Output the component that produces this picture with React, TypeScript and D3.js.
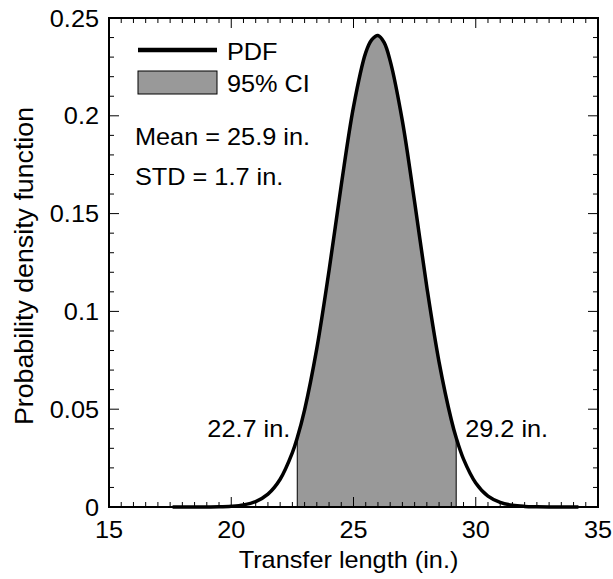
import React, { useEffect, useRef } from 'react';
import * as d3 from 'd3';

// curve points (x in inches, y = density)
const xs = [17.6, 18, 18.5, 19, 19.5, 20, 20.5, 21, 21.5, 22, 22.5, 22.7, 23, 23.5, 24, 24.5, 25, 25.5, 25.75, 26, 26.25, 26.5, 27, 27.5, 28, 28.5, 29, 29.2, 29.5, 30, 30.5, 31, 31.5, 32, 32.5, 33, 33.5, 34, 34.2];
const ys = [0, 0, 0, 0, 0.0001, 0.0004, 0.0011, 0.0028, 0.0066, 0.0142, 0.0278, 0.0354, 0.0497, 0.0811, 0.1209, 0.1646, 0.2046, 0.2323, 0.2389, 0.241, 0.2375, 0.2281, 0.1973, 0.1559, 0.1124, 0.0741, 0.0446, 0.0354, 0.0245, 0.0123, 0.0056, 0.0024, 0.0009, 0.0003, 0.0001, 0, 0, 0, 0];
const ciBounds = [22.7, 29.2];
const ciLabels = ['22.7 in.', '29.2 in.'];
const xTicks = [15, 20, 25, 30, 35];
const yTicks = [0, 0.05, 0.1, 0.15, 0.2, 0.25];
const statLines = ['Mean = 25.9 in.', 'STD = 1.7 in.'];

type Pt = { x: number; y: number };

const App = () => {
  const svgRef = useRef<SVGSVGElement>(null);

  useEffect(() => {
    const svg = d3.select(svgRef.current);
    svg.selectAll('*').remove();

    const width = 613;
    const height = 579;
    const margin = { top: 18, right: 15, bottom: 72, left: 109 };
    const w = width - margin.left - margin.right;
    const h = height - margin.top - margin.bottom;
    const fs = 23;
    const sx = 1.1; // the reference lettering is a bit wider than Arial

    svg.attr('width', width).attr('height', height)
      .style('font-family', '"Liberation Sans", Arial, sans-serif');
    const g = svg.append('g').attr('transform', `translate(${margin.left},${margin.top})`);

    // text helper: place at (px, py) in plot coords, stretched horizontally
    const label = (px: number, py: number, str: string | number, anchor = 'start') =>
      g.append('text')
        .attr('transform', `translate(${px},${py}) scale(${sx},1)`)
        .attr('text-anchor', anchor)
        .style('font-size', `${fs}px`)
        .text(str);

    const x = d3.scaleLinear().domain([15, 35]).range([0, w]);
    const y = d3.scaleLinear().domain([0, 0.25]).range([h, 0]);

    const data: Pt[] = xs.map((v, i) => ({ x: v, y: ys[i] }));
    const ciData = data.filter((d) => d.x >= ciBounds[0] && d.x <= ciBounds[1]);

    // shaded 95% CI
    g.append('path')
      .datum(ciData)
      .attr('fill', '#999999')
      .attr('d', d3.area<Pt>()
        .x((d) => x(d.x))
        .y0(y(0))
        .y1((d) => y(d.y))
        .curve(d3.curveCatmullRom));

    // vertical edges of the CI
    g.selectAll('.ci-edge')
      .data(ciBounds)
      .enter()
      .append('line')
      .attr('x1', (d) => x(d))
      .attr('x2', (d) => x(d))
      .attr('y1', y(0))
      .attr('y2', (d) => y(ciData.find((p) => p.x === d)!.y))
      .attr('stroke', '#000')
      .attr('stroke-width', 1);

    // PDF curve
    g.append('path')
      .datum(data)
      .attr('fill', 'none')
      .attr('stroke', '#000')
      .attr('stroke-width', 3.5)
      .attr('d', d3.line<Pt>()
        .x((d) => x(d.x))
        .y((d) => y(d.y))
        .curve(d3.curveCatmullRom));

    // inward ticks on all four sides
    const xMinor = d3.range(15, 35.01, 0.5);
    const yMinor = d3.range(0, 0.2501, 0.01);
    const tickG = g.append('g').attr('stroke', '#000').attr('stroke-width', 1);
    xMinor.forEach((v) => {
      const len = Math.abs(v % 5) < 1e-6 ? 10 : 5;
      tickG.append('line').attr('x1', x(v)).attr('x2', x(v)).attr('y1', h).attr('y2', h - len);
      tickG.append('line').attr('x1', x(v)).attr('x2', x(v)).attr('y1', 0).attr('y2', len);
    });
    yMinor.forEach((v) => {
      const len = Math.round(v * 100) % 5 === 0 ? 10 : 5;
      tickG.append('line').attr('x1', 0).attr('x2', len).attr('y1', y(v)).attr('y2', y(v));
      tickG.append('line').attr('x1', w).attr('x2', w - len).attr('y1', y(v)).attr('y2', y(v));
    });

    g.append('rect')
      .attr('width', w)
      .attr('height', h)
      .attr('fill', 'none')
      .attr('stroke', '#000')
      .attr('stroke-width', 2);

    xTicks.forEach((t) => label(x(t), h + 31, t, 'middle'));
    yTicks.forEach((t) => label(-10, y(t) + 8.5, t, 'end'));

    label(w / 2 - 5, h + 61, 'Transfer length (in.)', 'middle');

    g.append('text')
      .attr('transform', `translate(${33 - margin.left},${266 - margin.top}) rotate(-90) scale(1.07,1)`)
      .attr('text-anchor', 'middle')
      .style('font-size', '25px')
      .text('Probability density function');

    // CI bound labels
    label(x(ciBounds[0]) - 7, y(0.036), ciLabels[0], 'end');
    label(x(ciBounds[1]) + 9, y(0.036), ciLabels[1], 'start');

    // legend
    g.append('line')
      .attr('x1', 29).attr('x2', 108)
      .attr('y1', 32).attr('y2', 32)
      .attr('stroke', '#000').attr('stroke-width', 4.5);
    label(118, 42, 'PDF');
    g.append('rect')
      .attr('x', 29).attr('y', 53).attr('width', 79).attr('height', 23)
      .attr('fill', '#999999').attr('stroke', '#000').attr('stroke-width', 1);
    label(118, 74, '95% CI');

    statLines.forEach((s, i) => label(26, 127 + i * 40, s));
  }, []);

  return <svg ref={svgRef} style={{ position: 'absolute', left: 0, top: 0 }}></svg>;
};

export default App;
